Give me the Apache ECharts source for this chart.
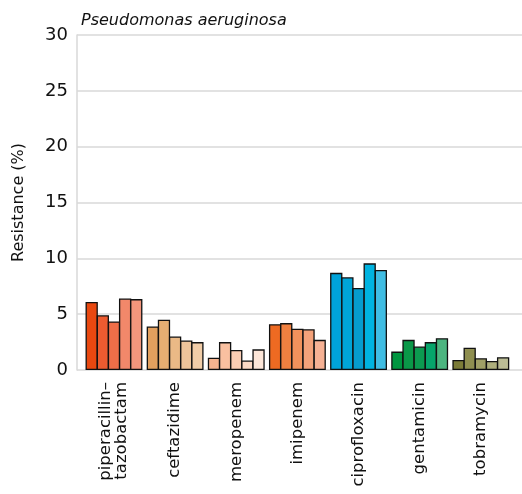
<!DOCTYPE html>
<html>
<head>
<meta charset="utf-8">
<script src="https://cdn.jsdelivr.net/npm/echarts@6/dist/echarts.min.js"></script>
<style>html,body{margin:0;padding:0;background:#fff}#c{width:522px;height:494px}</style>
</head>
<body>
<div id="c"></div>
<script>
// Data
const title = 'Pseudomonas aeruginosa';
const categories = ['piperacillin–\ntazobactam', 'ceftazidime', 'meropenem', 'imipenem', 'ciprofloxacin', 'gentamicin', 'tobramycin'];
const yTicks = [0, 5, 10, 15, 20, 25, 30];
// five bars per antibiotic (series 1..5)
const bar1 = [6.1, 3.9, 1.1, 4.1, 8.7, 1.65, 0.9];
const bar2 = [4.9, 4.5, 2.5, 4.2, 8.3, 2.7, 2.0];
const bar3 = [4.35, 3.0, 1.8, 3.7, 7.35, 2.1, 1.05];
const bar4 = [6.4, 2.65, 0.85, 3.65, 9.55, 2.5, 0.8];
const bar5 = [6.35, 2.5, 1.85, 2.7, 8.95, 2.85, 1.15];
const seriesValues = [bar1, bar2, bar3, bar4, bar5];

// Styles: colour shades per antibiotic group
const palette = [
  ['#E94810', '#EC5B30', '#EF6E48', '#F2886A', '#F3967C'],
  ['#E3A05E', '#E6AE72', '#EAB986', '#EEC49A', '#F1CDA8'],
  ['#F7B48F', '#F9C0A0', '#FACDB4', '#FCD9C5', '#FDE6D8'],
  ['#EE6A22', '#F08040', '#F2925C', '#F4A27A', '#F6B194'],
  ['#00A3DA', '#00A5D8', '#069CCE', '#00B3E0', '#40BDE3'],
  ['#009640', '#0A9848', '#0C9A50', '#06A56A', '#4CB580'],
  ['#7C7C38', '#8F8F50', '#A0A066', '#AEAF7C', '#BBBC95']
];

const font = '"DejaVu Sans", sans-serif';
const chart = echarts.init(document.getElementById('c'));

const series = seriesValues.map((vals, si) => ({
  type: 'bar',
  xAxisIndex: 1,
  yAxisIndex: 1,
  barWidth: 12.3,
  barGap: '-9.4%',
  data: vals.map((v, ci) => ({
    value: v,
    itemStyle: { color: palette[ci][si] }
  })),
  itemStyle: {
    borderColor: '#111',
    borderWidth: 1.3
  },
  animation: false
}));

chart.setOption({
  backgroundColor: '#fff',
  animation: false,
  title: {
    text: title,
    left: 76,
    top: 8,
    textStyle: { fontFamily: font, fontStyle: 'italic', fontWeight: 'normal', fontSize: 16, color: '#111' }
  },
  grid: [
    { left: 77, right: 0, top: 35, bottom: 124 },
    { left: 83.4, right: 10.6, top: 35, bottom: 124 }
  ],
  xAxis: [
    { gridIndex: 0, type: 'category', data: categories, show: false },
    {
      gridIndex: 1, type: 'category', data: categories,
      axisLine: { show: false }, axisTick: { show: false },
      axisLabel: {
        rotate: 90, margin: 12, interval: 0,
        fontFamily: font, fontSize: 16.5, color: '#111', lineHeight: 16
      }
    }
  ],
  yAxis: [
    {
      gridIndex: 0, type: 'value', min: 0, max: 30, interval: 5,
      name: 'Resistance (%)', nameLocation: 'middle', nameGap: 50,
      nameTextStyle: { fontFamily: font, fontSize: 16, color: '#111' },
      axisLine: { show: true, lineStyle: { color: '#d9d9d9', width: 1.5 } },
      axisTick: { show: false },
      axisLabel: {
        margin: 9, fontFamily: font, fontSize: 18, color: '#111',
        formatter: v => yTicks.includes(v) ? String(v) : ''
      },
      splitLine: { show: true, lineStyle: { color: '#d9d9d9', width: 1.5 } }
    },
    { gridIndex: 1, type: 'value', min: 0, max: 30, interval: 5, show: false, splitLine: { show: false } }
  ],
  series: series
});
</script>
</body>
</html>
